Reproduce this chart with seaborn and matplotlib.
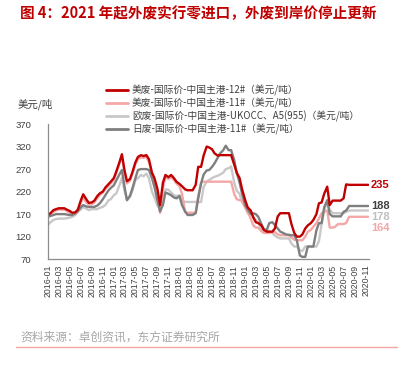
import pandas as pd
import seaborn as sns
import matplotlib.pyplot as plt
from matplotlib.lines import Line2D

sns.set_style("white")
plt.rcParams['font.family'] = ['Noto Sans CJK SC', 'DejaVu Sans']
plt.rcParams['axes.unicode_minus'] = False

# semi-monthly readings, 2016-01 .. 2020-11
dates = pd.date_range("2016-01-01", periods=118, freq="SMS")

us12 = [168, 172, 179, 181, 183, 183, 183, 180, 177, 173, 174, 180,
        200, 214, 203, 195, 196, 200, 210, 216, 220, 229, 236, 242,
        250, 265, 285, 303, 268, 243, 248, 264, 285, 297, 301, 299,
        301, 292, 262, 250, 225, 190, 240, 257, 252, 257, 250, 242,
        237, 232, 225, 223, 223, 223, 235, 275, 275, 300, 320, 318,
        314, 305, 300, 301, 301, 301, 301, 301, 280, 262, 250, 225,
        201, 185, 178, 163, 152, 150, 145, 135, 131, 131, 131, 138,
        165, 172, 172, 172, 172, 148, 128, 120, 120, 125, 138, 145,
        150, 157, 170, 194, 196, 215, 231, 190, 200, 200, 200, 200,
        205, 236, 235, 235, 235, 235, 235, 235, 235, 235]

us11 = [165, 169, 175, 178, 180, 180, 180, 177, 173, 169, 170, 176,
        194, 207, 196, 191, 192, 196, 205, 212, 218, 226, 232, 238,
        246, 261, 282, 299, 263, 238, 244, 260, 281, 292, 296, 295,
        297, 286, 257, 244, 212, 173, 228, 252, 248, 252, 246, 238,
        232, 215, 175, 173, 173, 173, 173, 210, 240, 242, 242, 242,
        242, 242, 242, 242, 242, 242, 242, 242, 215, 203, 201, 200,
        185, 175, 160, 145, 140, 140, 132, 128, 128, 128, 130, 130,
        125, 123, 123, 123, 123, 118, 113, 112, 112, 112, 120, 131,
        135, 142, 150, 160, 172, 175, 178, 140, 140, 142, 148, 148,
        148, 150, 164, 164, 164, 164, 164, 164, 164, 164]

eu_occ = [146, 152, 157, 159, 160, 160, 160, 161, 162, 164, 168, 175,
          180, 186, 182, 179, 181, 181, 181, 184, 186, 190, 200, 203,
          212, 216, 234, 250, 223, 201, 208, 223, 246, 250, 257, 254,
          260, 250, 220, 207, 188, 183, 197, 225, 224, 218, 212, 210,
          212, 200, 197, 197, 197, 197, 197, 197, 197, 230, 242, 246,
          250, 253, 255, 258, 262, 270, 272, 276, 240, 222, 215, 196,
          185, 172, 172, 163, 157, 150, 138, 133, 135, 132, 128, 122,
          118, 116, 116, 116, 116, 105, 98, 98, 90, 88, 98, 98,
          98, 98, 98, 110, 149, 179, 197, 180, 172, 172, 172, 172,
          172, 175, 178, 178, 178, 178, 178, 178, 178, 178]

jp11 = [164, 166, 168, 170, 170, 170, 170, 169, 168, 168, 172, 177,
        185, 190, 187, 186, 186, 186, 189, 194, 203, 212, 222, 228,
        234, 245, 258, 268, 232, 201, 211, 228, 250, 268, 270, 270,
        270, 268, 250, 230, 200, 176, 190, 218, 215, 212, 207, 205,
        210, 190, 176, 168, 168, 168, 172, 205, 238, 258, 267, 268,
        275, 283, 295, 305, 312, 322, 312, 312, 290, 262, 240, 215,
        190, 180, 170, 172, 170, 164, 148, 136, 135, 150, 152, 146,
        138, 131, 128, 125, 124, 123, 123, 112, 78, 75, 75, 98,
        98, 98, 134, 150, 150, 185, 201, 170, 165, 165, 165, 165,
        175, 178, 188, 188, 188, 188, 188, 188, 188, 188]

names = ["美废-国际价-中国主港-12#（美元/吨）",
         "美废-国际价-中国主港-11#（美元/吨）",
         "欧废-国际价-中国主港-UKOCC、A5(955)（美元/吨）",
         "日废-国际价-中国主港-11#（美元/吨）"]
colors = ["#C00000", "#F4A7A7", "#C8C8C8", "#7F7F7F"]
label_colors = ["#C00000", "#F4A7A7", "#BFBFBF", "#404040"]

df = pd.DataFrame({names[0]: us12, names[1]: us11,
                   names[2]: eu_occ, names[3]: jp11}, index=dates)
df.index.name = "date"
long = df.reset_index().melt(id_vars="date", var_name="series", value_name="price")

fig = plt.figure(figsize=(4.03, 3.66), dpi=100)
ax = fig.add_axes([0.119, 0.292, 0.797, 0.369])

for i in [2, 1, 3, 0]:
    sns.lineplot(data=long[long["series"] == names[i]], x="date", y="price",
                 color=colors[i], lw=1.7, ax=ax, legend=False)

ax.set_ylim(70, 370)
ax.set_yticks(range(70, 371, 50))
ax.set_xlim(dates[0], pd.Timestamp("2020-11-20"))
xt = pd.date_range("2016-01-01", "2020-11-01", freq="2MS")
ax.set_xticks(xt)
ax.set_xticklabels([d.strftime("%Y-%m") for d in xt], rotation=90)
ax.set_xlabel("")
ax.set_ylabel("")
sns.despine(ax=ax)
for s in ["left", "bottom"]:
    ax.spines[s].set_color("#8C8C8C")
    ax.spines[s].set_linewidth(0.9)
ax.tick_params(axis="both", colors="#8C8C8C", labelcolor="#404040",
               length=3, width=0.8, direction="out")
ax.tick_params(axis="x", labelsize=6.3, pad=1)
ax.tick_params(axis="y", labelsize=6.8, pad=9)
for lab in ax.get_xticklabels() + ax.get_yticklabels():
    lab.set_family(["Liberation Sans", "DejaVu Sans"])

# end-of-series value labels, stacked so they do not collide
offsets = [0, -8.1, -5.0, 0]
last = [us12[-1], us11[-1], eu_occ[-1], jp11[-1]]
for v, c, dy in zip(last, label_colors, offsets):
    ax.annotate(f"{v}", xy=(dates[-1], v), xytext=(2, dy),
                textcoords="offset points", ha="left", va="center",
                color=c, fontsize=8, fontweight="bold",
                family=["Liberation Sans", "DejaVu Sans"],
                annotation_clip=False)

handles = [Line2D([0], [0], color=c, lw=2) for c in colors]
fig.legend(handles, names, loc="upper left", bbox_to_anchor=(0.263, 0.768),
           frameon=False, fontsize=7, handlelength=2.3, handletextpad=0.35,
           labelspacing=0.2, borderpad=0, borderaxespad=0,
           labelcolor="#404040")

fig.text(20 / 403, 1 - 13 / 366, "图 4：2021 年起外废实行零进口，外废到岸价停止更新",
         color="#C00000", fontsize=10.5, fontweight="bold", ha="left", va="center")
fig.text(18 / 403, 1 - 104 / 366, "美元/吨", fontsize=7.5, color="#404040",
         ha="left", va="center")
fig.text(20 / 403, 1 - 337 / 366, "资料来源：卓创资讯，东方证券研究所",
         fontsize=8.5, color="#A6A6A6", ha="left", va="center")
fig.add_artist(Line2D([16 / 403, 397 / 403], [1 - 347 / 366] * 2,
                      color="#F2A5A5", lw=1, transform=fig.transFigure))

fig.savefig("out.png", dpi=100)
